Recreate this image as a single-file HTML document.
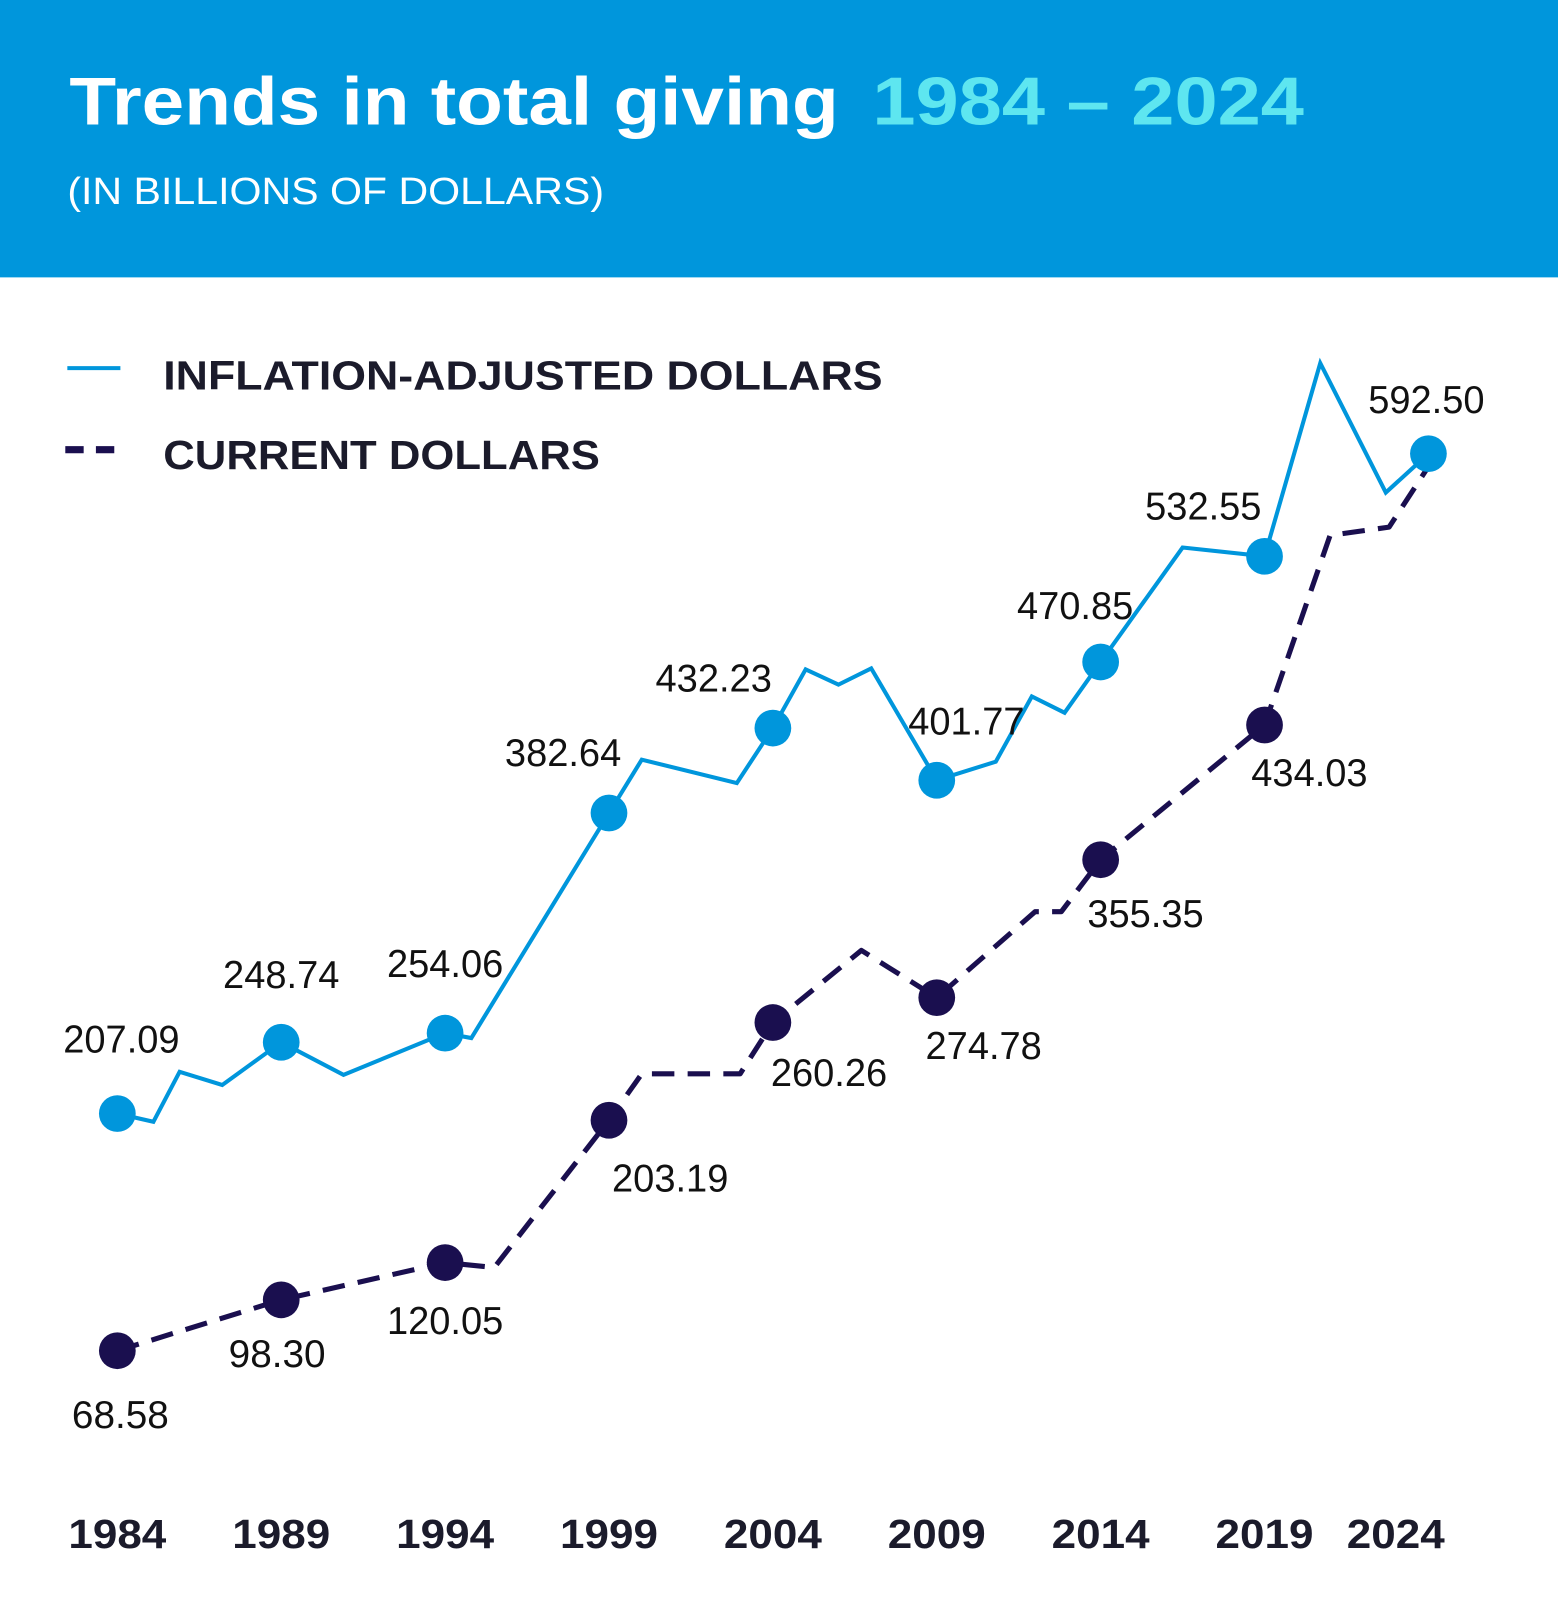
<!DOCTYPE html>
<html><head><meta charset="utf-8"><style>
html,body{margin:0;padding:0;background:#fff}
svg{display:block}
</style></head><body>
<svg id="chart" width="1558" height="1600" viewBox="0 0 1527 1569" preserveAspectRatio="none" xmlns="http://www.w3.org/2000/svg" font-family="Liberation Sans, sans-serif">
<rect x="0" y="0" width="1527" height="272" fill="#0096dc"/>
<text x="68" y="122" font-size="66" font-weight="bold" fill="#fff" textLength="754" lengthAdjust="spacingAndGlyphs">Trends in total giving</text>
<text x="855" y="122" font-size="66" font-weight="bold" fill="#5ee6f0" textLength="423" lengthAdjust="spacingAndGlyphs">1984 – 2024</text>
<text x="66" y="200" font-size="37" fill="#fff" textLength="526" lengthAdjust="spacingAndGlyphs">(IN BILLIONS OF DOLLARS)</text>
<line x1="66" y1="361" x2="118" y2="361" stroke="#0096dc" stroke-width="4"/>
<text x="160" y="382" font-size="40" font-weight="bold" fill="#1b1b2b" textLength="705" lengthAdjust="spacingAndGlyphs">INFLATION-ADJUSTED DOLLARS</text>
<line x1="64" y1="441" x2="122" y2="441" stroke="#1a0f4f" stroke-width="7" stroke-dasharray="18 12"/>
<text x="160" y="460" font-size="40" font-weight="bold" fill="#1b1b2b" textLength="428" lengthAdjust="spacingAndGlyphs">CURRENT DOLLARS</text>
<g id="plot"></g>
</svg>
<script>
const infYears=[1984,1985.1,1985.9,1987.2,1989,1990.9,1994,1994.8,1999,2000,2002.9,2004,2005,2006,2007,2009,2010.8,2011.9,2012.9,2014,2016.5,2019,2020.7,2022.7,2024];
const infValues=[207.09,202.3,231.5,223.8,248.74,229.7,254.06,251.2,382.64,413.8,400.1,432.23,466.5,457.6,467.1,401.77,412.6,450.7,441.2,470.85,537.7,532.55,645.4,569.8,592.50];
const curYears=[1984,1989,1994,1995.5,1999,2000,2003,2004,2006.7,2009,2012,2012.8,2014,2019,2021,2022.8,2024];
const curValues=[68.58,98.30,120.05,117.2,203.19,230.3,230.3,260.26,302.4,274.78,325,325,355.35,434.03,544.8,549.6,585];
const dotYears=[1984,1989,1994,1999,2004,2009,2014,2019,2024];
const infDotValues=[207.09,248.74,254.06,382.64,432.23,401.77,470.85,532.55,592.50];
const curDotValues=[68.58,98.30,120.05,203.19,260.26,274.78,355.35,434.03];
const infLabels=["207.09","248.74","254.06","382.64","432.23","401.77","470.85","532.55","592.50"];
const curLabels=["68.58","98.30","120.05","203.19","260.26","274.78","355.35","434.03"];
const tickYears=[1984,1989,1994,1999,2004,2009,2014,2019,2024];
const tickLabels=["1984","1989","1994","1999","2004","2009","2014","2019","2024"];

const infOff=[[4,-60],[0,-53],[0,-55],[-45,-46],[-58,-36],[29,-45],[-25,-42],[-60,-36],[-2,-40]];
const curOff=[[3,76],[-4,66],[0,70],[60,70],[55,62],[46,60],[44,66],[44,60]];
const tickDx=[0,0,0,0,0,0,0,0,-32];

function X(y){return 115+32.125*(y-1984);}
function Y(v){return 1092-(v-207.09)*1.679;}
const NS="http://www.w3.org/2000/svg";
const g=document.getElementById('plot');
function mk(t,a){const e=document.createElementNS(NS,t);for(const k in a)e.setAttribute(k,a[k]);g.appendChild(e);return e;}

const cp=mk('polyline',{points:curYears.map((y,i)=>X(y)+','+Y(curValues[i])).join(' '),fill:'none',stroke:'#1a0f4f','stroke-width':5,'stroke-dasharray':'22 13','stroke-linejoin':'round'});


const ip=mk('polyline',{points:infYears.map((y,i)=>X(y)+','+Y(infValues[i])).join(' '),fill:'none',stroke:'#0096dc','stroke-width':4,'stroke-linejoin':'miter'});



curDotValues.forEach((v,i)=>{
  const c=mk('circle',{cx:X(dotYears[i]),cy:Y(v),r:18,fill:'#1a0f4f'});
  
  
  const t=mk('text',{x:X(dotYears[i])+curOff[i][0],y:Y(v)+curOff[i][1],'text-anchor':'middle','font-size':38,fill:'#111',textLength:curLabels[i].length*19,lengthAdjust:'spacingAndGlyphs'});
  t.textContent=curLabels[i];
  
  
});
infDotValues.forEach((v,i)=>{
  const c=mk('circle',{cx:X(dotYears[i]),cy:Y(v),r:18,fill:'#0096dc'});
  
  
  const t=mk('text',{x:X(dotYears[i])+infOff[i][0],y:Y(v)+infOff[i][1],'text-anchor':'middle','font-size':38,fill:'#111',textLength:infLabels[i].length*19,lengthAdjust:'spacingAndGlyphs'});
  t.textContent=infLabels[i];
  
  
});
tickYears.forEach((y,i)=>{
  const t=mk('text',{x:X(y)+tickDx[i],y:1518,'text-anchor':'middle','font-size':40,'font-weight':'bold',fill:'#1b1b2b',textLength:96,lengthAdjust:'spacingAndGlyphs'});
  t.textContent=tickLabels[i];
  
  
});
</script>
</body></html>
